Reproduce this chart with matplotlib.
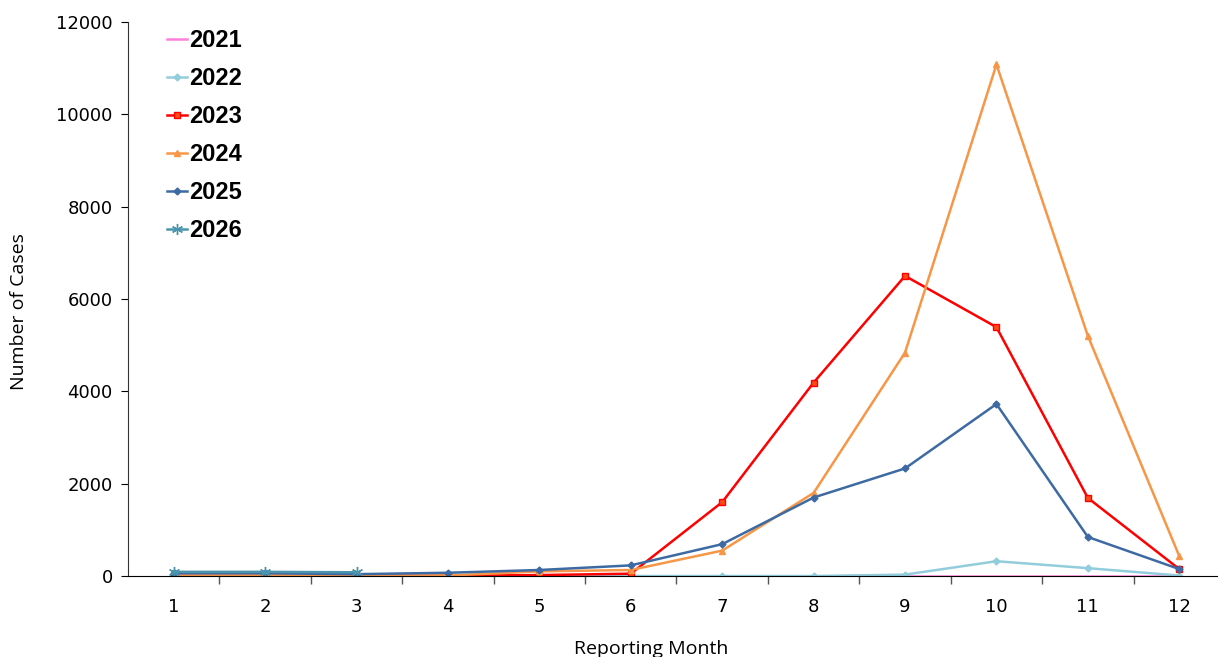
import numpy as np
import matplotlib.pyplot as plt

# Reported cases by month, one list per year
months = list(range(1, 13))
cases_2021 = [0, 0, 0, 0, 0, 0, 0, 0, 0, 0, 0, 0]
cases_2022 = [0, 0, 0, 0, 0, 0, 0, 0, 30, 320, 170, 10]
cases_2023 = [5, 5, 5, 5, 20, 50, 1600, 4190, 6500, 5390, 1690, 150]
cases_2024 = [10, 10, 10, 10, 100, 130, 550, 1800, 4840, 11080, 5200, 430]
cases_2025 = [60, 60, 40, 70, 130, 230, 690, 1700, 2330, 3725, 845, 150]
cases_2026 = [90, 90, 80]

series = [
    ("2021", months, cases_2021, "#ff80dc", None, "#ff80dc", "#ff80dc"),
    ("2022", months, cases_2022, "#92cddc", "D", "#92cddc", "#92cddc"),
    ("2023", months, cases_2023, "#ff0000", "s", "#ff4a1a", "#ff0000"),
    ("2024", months, cases_2024, "#f79646", "^", "#f79646", "#f79646"),
    ("2025", months, cases_2025, "#3d6aa3", "D", "#3d6aa3", "#3d6aa3"),
    ("2026", months[:3], cases_2026, "#4a95ad", (6, 2, 0), "#4a95ad", "#4a95ad"),
]

fig = plt.figure(figsize=(12.18, 6.57), dpi=100)
ax = fig.add_axes([128 / 1218, 81 / 657, 1097 / 1218, 554 / 657])

for name, xs, ys, col, mk, mfc, mec in series:
    ms = 5
    if mk == "D":
        ms = 3.5
    if mk == (6, 2, 0):
        ms = 8
    ax.plot(xs, ys, color=col, lw=1.8, marker=mk, ms=ms,
            markerfacecolor=mfc, markeredgecolor=mec, label=name)

ax.set_xlim(0.5, 12.5)
ax.set_ylim(0, 12000)
ax.set_yticks(np.arange(0, 12001, 2000))
ax.set_xticks(months)
ax.set_xticks(np.arange(1.5, 12.5, 1), minor=True)
ax.tick_params(axis="x", which="major", length=0, pad=16, labelsize=13)
ax.tick_params(axis="x", which="minor", length=6, direction="out", width=1, color="#555555")
ax.tick_params(axis="y", length=5, direction="out", labelsize=13, pad=6)
for lbl in ax.get_xticklabels() + ax.get_yticklabels():
    lbl.set_family("DejaVu Sans")

for side in ["top", "right"]:
    ax.spines[side].set_visible(False)
ax.spines["left"].set_color("#333333")
ax.spines["bottom"].set_color("#000000")

ax.set_xlabel("Reporting Month", fontsize=14, family="Open Sans")
ax.set_ylabel("Number of Cases", fontsize=14, family="Open Sans")
ax.xaxis.set_label_coords((651 - 128) / 1097, (576 - 640) / 554)
ax.yaxis.set_label_coords((28 - 128) / 1097, (576 - 312) / 554)

leg = ax.legend(loc="upper left", bbox_to_anchor=(0.016, 1.025), frameon=False,
                prop={"family": "Liberation Sans", "weight": "bold", "size": 17},
                handlelength=0.85, handletextpad=0.1, labelspacing=0.63)

fig.savefig("out.png", dpi=100)
